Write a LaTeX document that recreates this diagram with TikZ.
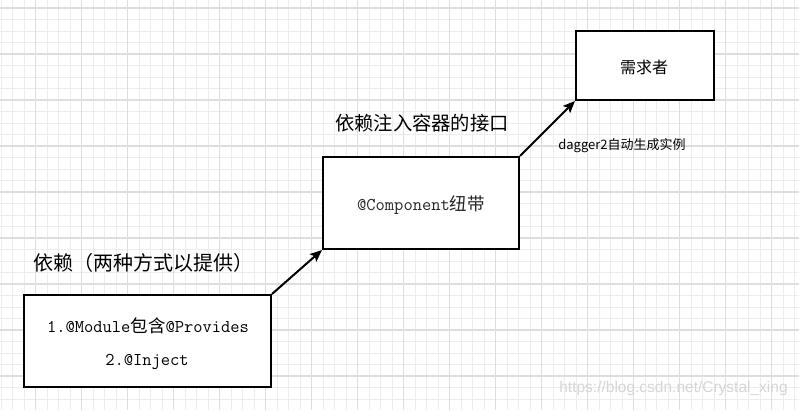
\documentclass[tikz,border=0pt]{standalone}
\usepackage{fontspec}
\setmainfont{Liberation Sans}
\newfontfamily\cjk{Noto Sans CJK SC}
\newfontfamily\wmfont{Liberation Sans}
\usetikzlibrary{arrows.meta}
\definecolor{gridminor}{HTML}{EDEDED}
\definecolor{gridmajor}{HTML}{DEDEDE}
\definecolor{wm}{HTML}{D6D6D6}
\tikzset{
  boxnode/.style={draw=black, line width=2pt, fill=white, inner sep=0pt, rectangle},
  conn/.style={line width=2pt, -{Stealth[length=12pt,width=10pt,inset=2.5pt]}},
  minorline/.style={gridminor, line width=1pt},
  majorline/.style={gridmajor, line width=1.1pt},
}
\begin{document}
\begin{tikzpicture}[x=1pt,y=-1pt]
\useasboundingbox (0,0) rectangle (799,410);
\fill[white] (0,0) rectangle (799,410);
% grid
\foreach \i in {0,...,72} {
  \pgfmathsetmacro\gx{35.5+11.5*(\i-3)}
  \pgfmathsetmacro\gy{8+11.5*(\i-1)}
  \draw[minorline] (\gx,0) -- (\gx,410);
  \ifdim\gy pt<410pt \draw[minorline] (0,\gy) -- (799,\gy); \fi
}
\foreach \i in {0,...,17} {
  \pgfmathsetmacro\gx{35.5+46*\i}
  \pgfmathsetmacro\gy{8+46*\i}
  \draw[majorline] (\gx,0) -- (\gx,410);
  \ifdim\gy pt<410pt \draw[majorline] (0,\gy) -- (799,\gy); \fi
}
% boxes
\node[boxnode, minimum width=247pt, minimum height=92pt] (b1) at (147.5,341) {};
\node[boxnode, minimum width=196pt, minimum height=92pt] (b2) at (421,203) {};
\node[boxnode, minimum width=138pt, minimum height=69pt] (b3) at (645,65.5) {};
% box texts
\node[inner sep=0pt, font=\ttfamily\fontsize{18}{20}\selectfont] (t1a) at (148,326) {1.@Module{\cjk\fontsize{17.5}{20}\selectfont 包含}@Provides};
\node[inner sep=0pt, font=\ttfamily\fontsize{18}{20}\selectfont] (t1b) at (147,362) {2.@Inject};
\node[inner sep=0pt, font=\ttfamily\fontsize{18}{20}\selectfont, text=black!85] (t2) at (421,205) {@Component{\cjk\fontsize{17.5}{20}\selectfont 纽带}};
\node[inner sep=0pt, font=\cjk\fontsize{16}{18}\selectfont] (t3) at (644,67) {需求者};
% labels
\node[inner sep=0pt, font=\cjk\fontsize{20}{22}\selectfont] (l1) at (143,263) {依赖（两种方式以提供）};
\node[inner sep=0pt, font=\cjk\fontsize{19.3}{22}\selectfont] (l2) at (422,123) {依赖注入容器的接口};
\node[inner sep=0pt, font=\cjk\fontsize{13}{15}\selectfont] (l3) at (622,146) {dagger2自动生成实例};
% connectors
\draw[conn] (b1.north east) -- (b2.south west);
\draw[conn] (b2.north east) -- (b3.south west);
% watermark
\node[inner sep=0pt, font=\wmfont\fontsize{15.5}{17}\selectfont, text=wm] (wm) at (673.5,388) {https://blog.csdn.net/Crystal\_xing};
\end{tikzpicture}
\end{document}
